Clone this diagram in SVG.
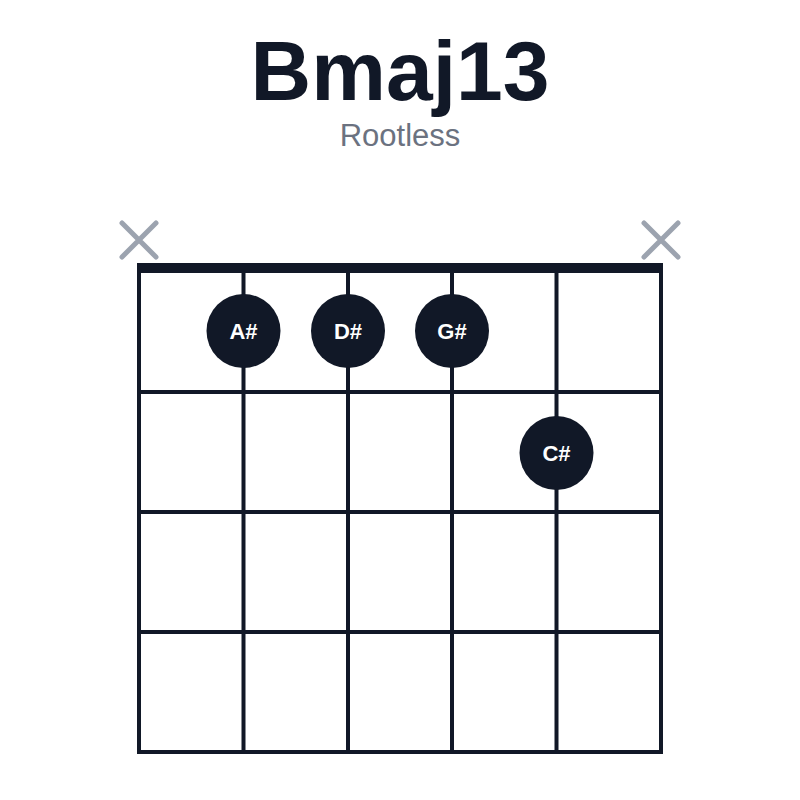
<svg xmlns="http://www.w3.org/2000/svg" width="800" height="800" viewBox="0 0 800 800">
<style>
.s{stroke:#111827;stroke-width:4;fill:none}
.x{stroke:#9ca3af;stroke-width:5;stroke-linecap:round}
.d{fill:#111827}
.t{font-family:"Liberation Sans",Arial,sans-serif;fill:#fff;font-size:22px;font-weight:bold;text-anchor:middle}
</style>
<rect width="800" height="800" fill="#fff"/>
<text x="400" y="100" font-family="Liberation Sans,Arial,sans-serif" font-size="84" font-weight="bold" fill="#111827" text-anchor="middle">Bmaj13</text>
<text x="400" y="146" font-family="Liberation Sans,Arial,sans-serif" font-size="31" fill="#6b7280" text-anchor="middle">Rootless</text>
<g id="grid">
<line class="s" x1="139" y1="268" x2="139" y2="752"/>
<line class="s" x1="243.5" y1="268" x2="243.5" y2="752"/>
<line class="s" x1="348" y1="268" x2="348" y2="752"/>
<line class="s" x1="452" y1="268" x2="452" y2="752"/>
<line class="s" x1="556.5" y1="268" x2="556.5" y2="752"/>
<line class="s" x1="661" y1="268" x2="661" y2="752"/>
<line class="s" x1="137" y1="392" x2="663" y2="392"/>
<line class="s" x1="137" y1="512" x2="663" y2="512"/>
<line class="s" x1="137" y1="632" x2="663" y2="632"/>
<line class="s" x1="137" y1="752" x2="663" y2="752"/>
<rect x="137" y="263" width="526" height="10" fill="#111827"/>
</g>
<g id="mutes">
<path class="x" d="M122 223L156 257M156 223L122 257"/>
<path class="x" d="M644 223L678 257M678 223L644 257"/>
</g>
<g id="n1"><circle class="d" cx="243.5" cy="331" r="37"/><text class="t" x="243.5" y="339">A#</text></g>
<g id="n2"><circle class="d" cx="348" cy="331" r="37"/><text class="t" x="348" y="339">D#</text></g>
<g id="n3"><circle class="d" cx="452" cy="331" r="37"/><text class="t" x="452" y="339">G#</text></g>
<g id="n4"><circle class="d" cx="556.5" cy="453" r="37"/><text class="t" x="556.5" y="461">C#</text></g>
</svg>
